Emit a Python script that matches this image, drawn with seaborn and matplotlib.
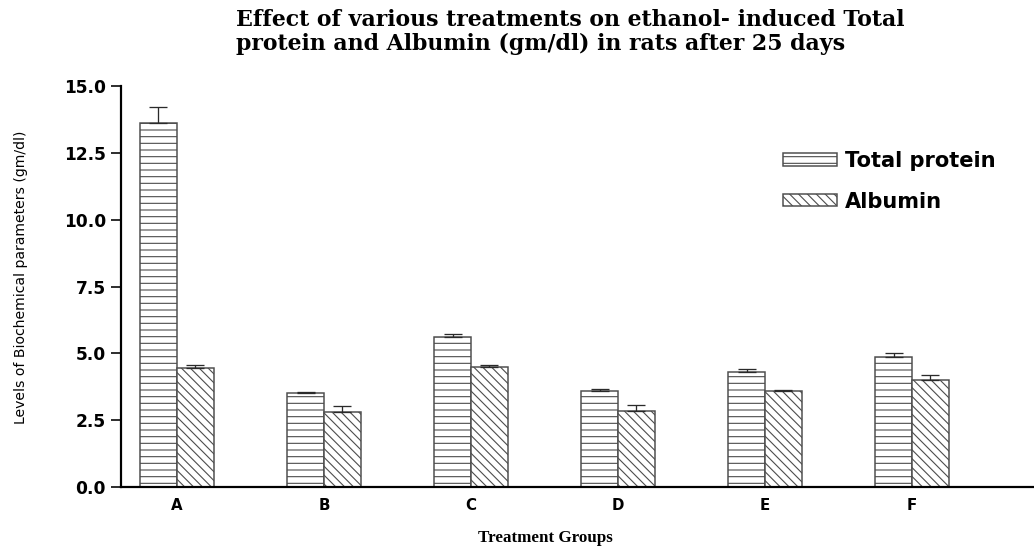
import matplotlib
matplotlib.use("Agg")
import matplotlib.pyplot as plt
from matplotlib.patches import Patch
import seaborn as sns
import pandas as pd

# Treatment groups and measured values (gm/dl), mean and SEM
groups = ["A", "B", "C", "D", "E", "F"]
series_names = ["Total protein", "Albumin"]
total_protein = [13.6, 3.5, 5.6, 3.6, 4.3, 4.85]
total_protein_err = [0.6, 0.07, 0.13, 0.07, 0.1, 0.15]
albumin = [4.45, 2.8, 4.5, 2.85, 3.6, 4.0]
albumin_err = [0.1, 0.22, 0.06, 0.2, 0.03, 0.19]
y_ticks = [0.0, 2.5, 5.0, 7.5, 10.0, 12.5, 15.0]

DPI = 80
PT = 72 / DPI  # pixels -> points

sns.set_style("ticks")
plt.rcParams["font.family"] = ["DejaVu Sans"]
plt.rcParams["text.color"] = "black"
plt.rcParams["xtick.color"] = "black"
plt.rcParams["ytick.color"] = "black"
plt.rcParams["hatch.linewidth"] = 1.0
plt.rcParams["hatch.color"] = "#4d4d4d"

df = pd.DataFrame({
    "group": groups * 2,
    "value": total_protein + albumin,
    "series": [series_names[0]] * len(groups) + [series_names[1]] * len(groups),
})

fig = plt.figure(figsize=(1034 / DPI, 548 / DPI), dpi=DPI)
ax = fig.add_axes([121 / 1034, 1 - 487 / 548, 1 - 121 / 1034, (487 - 86) / 548])

edge = "#4d4d4d"
sns.barplot(data=df, x="group", y="value", hue="series", order=groups,
            hue_order=series_names, palette=["white", "white"], width=0.5,
            errorbar=None, edgecolor=edge, linewidth=1.5 * PT, legend=False, ax=ax)

hatches = ["--", "\\\\\\"]
errs = [total_protein_err, albumin_err]
for cont, hatch, err in zip(ax.containers, hatches, errs):
    xs, ys = [], []
    for p in cont.patches:
        p.set_hatch(hatch)
        xs.append(p.get_x() + p.get_width() / 2)
        ys.append(p.get_height())
    ax.errorbar(xs, ys, yerr=[[0] * len(err), err], fmt="none", ecolor="#2a2a2a",
                elinewidth=1.3 * PT, capsize=9 * PT, capthick=1.3 * PT, zorder=1)

ax.set_ylim(0, 15)
ax.set_xlim(-0.38, 5.83)
ax.set_yticks(y_ticks)
ax.set_yticklabels([f"{t:.1f}" for t in y_ticks], fontsize=17 * PT, fontweight="bold")
ax.set_xticks(range(len(groups)))
ax.set_xticklabels(groups, fontsize=15 * PT, fontweight="bold")
ax.tick_params(axis="y", length=10 * PT, width=1.6 * PT, pad=5 * PT)
ax.tick_params(axis="x", length=0, pad=11 * PT)
for s in ["top", "right"]:
    ax.spines[s].set_visible(False)
for s in ["left", "bottom"]:
    ax.spines[s].set_linewidth(2.2 * PT)
    ax.spines[s].set_color("black")

ax.set_xlabel("")
ax.set_ylabel("")
fig.text(545 / 1034, 1 - 538 / 548, "Treatment Groups", ha="center", va="center",
         family="Liberation Serif", fontweight="bold", fontsize=17 * PT)
fig.text(21 / 1034, 1 - 277 / 548, "Levels of Biochemical parameters (gm/dl)",
         rotation=90, ha="center", va="center", fontsize=14 * PT)
fig.text(236 / 1034, 1 - 9 / 548,
         "Effect of various treatments on ethanol- induced Total\n"
         "protein and Albumin (gm/dl) in rats after 25 days",
         ha="left", va="top", family="DejaVu Serif", fontweight="bold",
         fontsize=22 * PT, linespacing=1.1)

handles = [Patch(facecolor="white", edgecolor=edge, hatch=h, linewidth=1.5 * PT)
           for h in hatches]
ax.legend(handles, series_names, loc="upper left",
          bbox_to_anchor=(783 / 1034, 1 - 151 / 548), bbox_transform=fig.transFigure,
          frameon=False, borderpad=0, borderaxespad=0, handlelength=2.55,
          handleheight=0.52, handletextpad=0.42, labelspacing=0.98,
          prop={"size": 21 * PT, "weight": "bold"})

fig.savefig("out.png", dpi=DPI)
